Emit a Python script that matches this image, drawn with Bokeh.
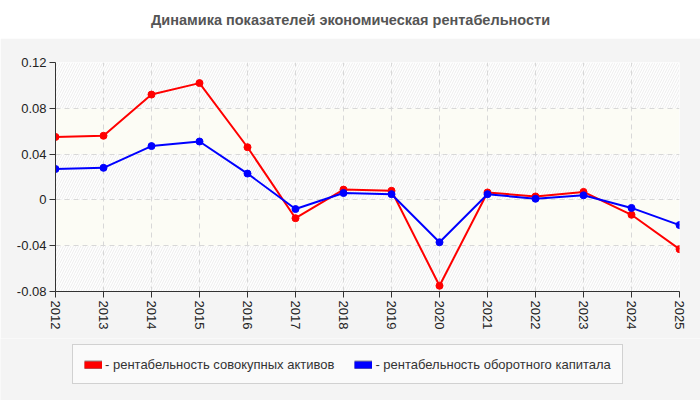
from bokeh.plotting import figure
from bokeh.layouts import column
from bokeh.models import (Range1d, FixedTicker, BoxAnnotation, Label, Legend, LegendItem,
                          ColumnDataSource)
from bokeh.embed import file_html
from bokeh.resources import INLINE

title = "Динамика показателей экономическая рентабельности"
years = [2012, 2013, 2014, 2015, 2016, 2017, 2018, 2019, 2020, 2021, 2022, 2023, 2024, 2025]
assets = [0.055, 0.056, 0.092, 0.102, 0.046, -0.016, 0.009, 0.008, -0.075, 0.0065, 0.003, 0.007, -0.013, -0.043]
working = [0.027, 0.028, 0.047, 0.051, 0.023, -0.008, 0.006, 0.005, -0.037, 0.005, 0.001, 0.004, -0.007, -0.022]
names = ["- рентабельность совокупных активов", "- рентабельность оборотного капитала"]
colors = ["#ff0000", "#0000ff"]
y_ticks = [-0.08, -0.04, 0, 0.04, 0.08, 0.12]
y_labels = ["-0.08", "-0.04", "0", "0.04", "0.08", "0.12"]

FONT = "Liberation Sans"
PANEL = "#f4f4f4"


def blank(height, fill):
    f = figure(width=700, height=height, output_backend="svg", toolbar_location=None,
               x_range=Range1d(0, 1), y_range=Range1d(0, 1), min_border=0,
               x_axis_location=None, y_axis_location=None, frame_align=False,
               background_fill_color=fill, border_fill_color=fill, outline_line_color=None)
    f.xgrid.visible = False
    f.ygrid.visible = False
    return f


# header with the title
head = blank(38, "white")
head.add_layout(Label(x=0.5, y=0.5, text=title,
                      text_align="center", text_baseline="middle",
                      text_font=FONT, text_font_size="14.5px", text_font_style="bold",
                      text_color="#555555"))

p = figure(width=700, height=300, output_backend="svg", toolbar_location=None,
           x_range=Range1d(years[0], years[-1]), y_range=Range1d(y_ticks[0], y_ticks[-1]),
           min_border_left=55, min_border_right=21, min_border_top=24, min_border_bottom=47,
           frame_align=False,
           background_fill_color="white", border_fill_color=PANEL, outline_line_color=None)

# background bands
for i in range(len(y_ticks) - 1):
    lo, hi = y_ticks[i], y_ticks[i + 1]
    hatched = (i % 2 == 0)
    band = BoxAnnotation(bottom=lo, top=hi, level="image", line_color=None, line_alpha=0,
                         fill_color="white" if hatched else "#fcfcf5", fill_alpha=1)
    if hatched:
        band.hatch_pattern = "/"
        band.hatch_color = "#ededed"
        band.hatch_scale = 5
        band.hatch_weight = 1
    p.add_layout(band)

# grids
for g in (p.xgrid, p.ygrid):
    g.grid_line_color = "#d8d8d8"
    g.grid_line_dash = "5 4"
    g.grid_line_width = 1
p.xaxis.ticker = FixedTicker(ticks=years)
p.yaxis.ticker = FixedTicker(ticks=y_ticks)
p.yaxis.major_label_overrides = {t: l for t, l in zip(y_ticks, y_labels)}
p.xaxis.major_label_orientation = "vertical"
for ax in (p.xaxis, p.yaxis):
    ax.axis_line_color = "#333333"
    ax.major_tick_line_color = "#333333"
    ax.major_tick_out = 6
    ax.major_tick_in = 0
    ax.minor_tick_line_color = None
    ax.major_label_text_font = FONT
    ax.major_label_text_font_size = "13px"
    ax.major_label_text_color = "#222222"
    ax.major_label_standoff = 3

# series
for vals, col in zip([assets, working], colors):
    src = ColumnDataSource(dict(x=years, y=vals))
    p.line("x", "y", source=src, line_color=col, line_width=2)
    p.scatter("x", "y", source=src, size=7, fill_color=col, line_color=col)

# legend strip (series drawn out of view there, only to supply legend swatches)
leg = blank(62, PANEL)
items = []
for vals, name, col in zip([assets, working], names, colors):
    src = ColumnDataSource(dict(x=years, y=vals))
    edge = leg.line("x", "y", source=src, line_color="#8a8a8a", line_width=9, line_cap="butt")
    fill = leg.line("x", "y", source=src, line_color=col, line_width=7, line_cap="butt")
    items.append(LegendItem(label=name, renderers=[edge, fill]))

legend = Legend(items=items, orientation="horizontal", location=(72, 16),
                glyph_width=18, glyph_height=9, label_standoff=3, spacing=20, padding=11,
                margin=0, label_text_font=FONT, label_text_font_size="13px",
                label_text_color="#333333", label_height=16,
                background_fill_color="#fafafa", background_fill_alpha=1,
                border_line_color="#a8a8a8", border_line_width=1)
leg.add_layout(legend)

layout = column(head, p, leg, spacing=0)
open("out.html", "w").write(file_html(layout, INLINE))
